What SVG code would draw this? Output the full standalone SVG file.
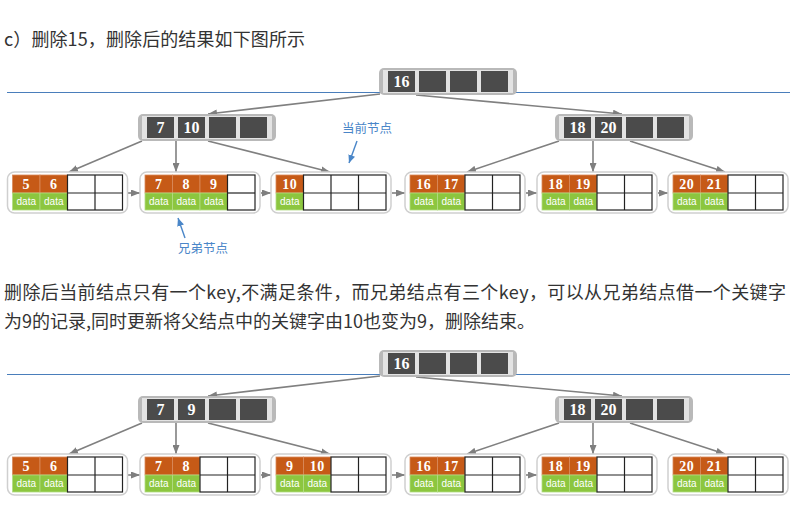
<svg xmlns="http://www.w3.org/2000/svg" xmlns:xlink="http://www.w3.org/1999/xlink" width="799" height="520" viewBox="0 0 799 520">
  <style>
    .para { font-family: "Noto Sans CJK SC", "Noto Sans", sans-serif; font-size: 18px; fill: #333; }
    .note { font-family: "Noto Sans CJK SC", "Noto Sans", sans-serif; font-size: 12.5px; fill: #4a86c8; }
    .rule { stroke: #4a7ebb; stroke-width: 1; }
    .nb { fill: #b9b9b9; }
    .ni { fill: #e3e3e3; }
    .nc { fill: #4b4b4b; }
    .frame { fill: #fff; stroke: #cfcfcf; stroke-width: 1.5; }
    .grid { fill: #fff; stroke: #222; stroke-width: 1.2; }
    .key { fill: #c65a17; stroke: #d98a5c; stroke-width: 0.8; }
    .dat { fill: #8cc63f; stroke: #b2dc85; stroke-width: 0.8; }
    .kt { font-family: "Liberation Serif", "DejaVu Serif", serif; font-weight: bold; fill: #fff; text-anchor: middle; }
    .kt-in { font-size: 16px; }
    .kt-leaf { font-size: 14px; letter-spacing: 0.5px; }
    .dt { font-family: "Liberation Sans", Arial, sans-serif; font-size: 10px; fill: #fff; text-anchor: middle; }
    .link { stroke: #808080; stroke-width: 1.6; fill: none; marker-end: url(#arr); }
    .hint { stroke: #4a86c8; stroke-width: 1.4; fill: none; marker-end: url(#arrb); }
  </style>
  <defs>
    <marker id="arr" markerUnits="userSpaceOnUse" markerWidth="9" markerHeight="7" refX="9" refY="3.5" orient="auto">
      <path d="M0,0 L9,3.5 L0,7 z" fill="#7f7f7f"/>
    </marker>
    <marker id="arrb" markerUnits="userSpaceOnUse" markerWidth="8" markerHeight="7" refX="8" refY="3.5" orient="auto">
      <path d="M0,0 L8,3.5 L0,7 z" fill="#4a86c8"/>
    </marker>
    <!-- internal node: frame plus four key slots -->
    <g id="inode">
      <rect class="nb" x="0" y="0" width="138" height="27" rx="5"/>
      <rect class="ni" x="4" y="2" width="130" height="23"/>
      <rect class="nc" x="9" y="3" width="27" height="21"/>
      <rect class="nc" x="40" y="3" width="27" height="21"/>
      <rect class="nc" x="71" y="3" width="27" height="21"/>
      <rect class="nc" x="102" y="3" width="27" height="21"/>
    </g>
    <!-- leaf frame -->
    <rect id="lframe" class="frame" x="-5" y="-3" width="120" height="41" rx="7"/>
    <!-- one filled key/data column -->
    <g id="kd">
      <rect class="key" x="0" y="0" width="27.5" height="18"/>
      <rect class="dat" x="0" y="18" width="27.5" height="17"/>
    </g>
    <!-- empty columns -->
    <g id="e1">
      <rect class="grid" x="0" y="0" width="27.5" height="35"/>
      <line class="grid" x1="0" y1="18" x2="27.5" y2="18"/>
    </g>
    <g id="e2">
      <rect class="grid" x="0" y="0" width="55" height="35"/>
      <line class="grid" x1="27.5" y1="0" x2="27.5" y2="35"/>
      <line class="grid" x1="0" y1="18" x2="55" y2="18"/>
    </g>
    <g id="e3">
      <rect class="grid" x="0" y="0" width="82.5" height="35"/>
      <line class="grid" x1="27.5" y1="0" x2="27.5" y2="35"/>
      <line class="grid" x1="55" y1="0" x2="55" y2="35"/>
      <line class="grid" x1="0" y1="18" x2="82.5" y2="18"/>
    </g>
  </defs>

  <rect width="799" height="520" fill="#fff"/>

  <text class="para" x="4" y="46" textLength="301" lengthAdjust="spacing">c）删除15，删除后的结果如下图所示</text>
  <text class="para" x="4" y="299" textLength="782" lengthAdjust="spacing">删除后当前结点只有一个key,不满足条件，而兄弟结点有三个key，可以从兄弟结点借一个关键字</text>
  <text class="para" x="4" y="328" textLength="531" lengthAdjust="spacing">为9的记录,同时更新将父结点中的关键字由10也变为9，删除结束。</text>

  <line class="rule" x1="7" y1="92.5" x2="790" y2="92.5"/>
  <line class="rule" x1="7" y1="374.5" x2="790" y2="374.5"/>

  <!-- connectors -->
  <g id="connectors">
    <path class="link" d="M380,94 L208,114"/>
    <path class="link" d="M416,95 L622,114"/>
    <path class="link" d="M142,141 L69,172"/>
    <path class="link" d="M176,141 L176,172"/>
    <path class="link" d="M208,141 L330,172"/>
    <path class="link" d="M559,141 L467,172"/>
    <path class="link" d="M593,141 L593,172"/>
    <path class="link" d="M630,141 L725,172"/>
    <path class="link" d="M128,193 L140,193"/>
    <path class="link" d="M261,193 L271,193"/>
    <path class="link" d="M392,193 L405,193"/>
    <path class="link" d="M526,193 L537,193"/>
    <path class="link" d="M658,193 L668,193"/>

    <path class="link" d="M380,376 L208,396"/>
    <path class="link" d="M416,377 L622,396"/>
    <path class="link" d="M142,423 L69,454"/>
    <path class="link" d="M176,423 L176,454"/>
    <path class="link" d="M208,423 L330,454"/>
    <path class="link" d="M559,423 L467,454"/>
    <path class="link" d="M593,423 L593,454"/>
    <path class="link" d="M630,423 L725,454"/>
    <path class="link" d="M128,475 L140,475"/>
    <path class="link" d="M261,475 L271,475"/>
    <path class="link" d="M392,475 L405,475"/>
    <path class="link" d="M526,475 L537,475"/>

    <path class="hint" d="M357,141 L349,163"/>
    <path class="hint" d="M185,238 L178,218"/>
  </g>

  <text class="note" x="342" y="133">当前节点</text>
  <text class="note" x="178" y="253">兄弟节点</text>

  <!-- ===== before: tree after removing 15 ===== -->
  <g id="a-root" transform="translate(379,68)">
    <use xlink:href="#inode"/>
    <text class="kt kt-in" x="22.5" y="19">16</text>
  </g>
  <g id="a-left" transform="translate(138,114)">
    <use xlink:href="#inode"/>
    <text class="kt kt-in" x="22.5" y="19">7</text>
    <text class="kt kt-in" x="53.5" y="19">10</text>
  </g>
  <g id="a-right" transform="translate(555,114)">
    <use xlink:href="#inode"/>
    <text class="kt kt-in" x="22.5" y="19">18</text>
    <text class="kt kt-in" x="53.5" y="19">20</text>
  </g>

  <g id="a-leaf1" transform="translate(12.5,175)">
    <use xlink:href="#lframe"/>
    <use xlink:href="#kd"/><use xlink:href="#kd" x="27.5"/>
    <use xlink:href="#e2" x="55"/>
    <text class="kt kt-leaf" x="13.75" y="14">5</text><text class="kt kt-leaf" x="41.25" y="14">6</text>
    <text class="dt" x="13.75" y="30">data</text><text class="dt" x="41.25" y="30">data</text>
  </g>
  <g id="a-leaf2" transform="translate(145,175)">
    <use xlink:href="#lframe"/>
    <use xlink:href="#kd"/><use xlink:href="#kd" x="27.5"/><use xlink:href="#kd" x="55"/>
    <use xlink:href="#e1" x="82.5"/>
    <text class="kt kt-leaf" x="13.75" y="14">7</text><text class="kt kt-leaf" x="41.25" y="14">8</text><text class="kt kt-leaf" x="68.75" y="14">9</text>
    <text class="dt" x="13.75" y="30">data</text><text class="dt" x="41.25" y="30">data</text><text class="dt" x="68.75" y="30">data</text>
  </g>
  <g id="a-leaf3" transform="translate(276,175)">
    <use xlink:href="#lframe"/>
    <use xlink:href="#kd"/>
    <use xlink:href="#e3" x="27.5"/>
    <text class="kt kt-leaf" x="13.75" y="14">10</text>
    <text class="dt" x="13.75" y="30">data</text>
  </g>
  <g id="a-leaf4" transform="translate(410,175)">
    <use xlink:href="#lframe"/>
    <use xlink:href="#kd"/><use xlink:href="#kd" x="27.5"/>
    <use xlink:href="#e2" x="55"/>
    <text class="kt kt-leaf" x="13.75" y="14">16</text><text class="kt kt-leaf" x="41.25" y="14">17</text>
    <text class="dt" x="13.75" y="30">data</text><text class="dt" x="41.25" y="30">data</text>
  </g>
  <g id="a-leaf5" transform="translate(542,175)">
    <use xlink:href="#lframe"/>
    <use xlink:href="#kd"/><use xlink:href="#kd" x="27.5"/>
    <use xlink:href="#e2" x="55"/>
    <text class="kt kt-leaf" x="13.75" y="14">18</text><text class="kt kt-leaf" x="41.25" y="14">19</text>
    <text class="dt" x="13.75" y="30">data</text><text class="dt" x="41.25" y="30">data</text>
  </g>
  <g id="a-leaf6" transform="translate(673,175)">
    <use xlink:href="#lframe"/>
    <use xlink:href="#kd"/><use xlink:href="#kd" x="27.5"/>
    <use xlink:href="#e2" x="55"/>
    <text class="kt kt-leaf" x="13.75" y="14">20</text><text class="kt kt-leaf" x="41.25" y="14">21</text>
    <text class="dt" x="13.75" y="30">data</text><text class="dt" x="41.25" y="30">data</text>
  </g>

  <!-- ===== after: key 9 borrowed from the sibling ===== -->
  <g id="b-root" transform="translate(379,350)">
    <use xlink:href="#inode"/>
    <text class="kt kt-in" x="22.5" y="19">16</text>
  </g>
  <g id="b-left" transform="translate(138,396)">
    <use xlink:href="#inode"/>
    <text class="kt kt-in" x="22.5" y="19">7</text>
    <text class="kt kt-in" x="53.5" y="19">9</text>
  </g>
  <g id="b-right" transform="translate(555,396)">
    <use xlink:href="#inode"/>
    <text class="kt kt-in" x="22.5" y="19">18</text>
    <text class="kt kt-in" x="53.5" y="19">20</text>
  </g>

  <g id="b-leaf1" transform="translate(12.5,457)">
    <use xlink:href="#lframe"/>
    <use xlink:href="#kd"/><use xlink:href="#kd" x="27.5"/>
    <use xlink:href="#e2" x="55"/>
    <text class="kt kt-leaf" x="13.75" y="14">5</text><text class="kt kt-leaf" x="41.25" y="14">6</text>
    <text class="dt" x="13.75" y="30">data</text><text class="dt" x="41.25" y="30">data</text>
  </g>
  <g id="b-leaf2" transform="translate(145,457)">
    <use xlink:href="#lframe"/>
    <use xlink:href="#kd"/><use xlink:href="#kd" x="27.5"/>
    <use xlink:href="#e2" x="55"/>
    <text class="kt kt-leaf" x="13.75" y="14">7</text><text class="kt kt-leaf" x="41.25" y="14">8</text>
    <text class="dt" x="13.75" y="30">data</text><text class="dt" x="41.25" y="30">data</text>
  </g>
  <g id="b-leaf3" transform="translate(276,457)">
    <use xlink:href="#lframe"/>
    <use xlink:href="#kd"/><use xlink:href="#kd" x="27.5"/>
    <use xlink:href="#e2" x="55"/>
    <text class="kt kt-leaf" x="13.75" y="14">9</text><text class="kt kt-leaf" x="41.25" y="14">10</text>
    <text class="dt" x="13.75" y="30">data</text><text class="dt" x="41.25" y="30">data</text>
  </g>
  <g id="b-leaf4" transform="translate(410,457)">
    <use xlink:href="#lframe"/>
    <use xlink:href="#kd"/><use xlink:href="#kd" x="27.5"/>
    <use xlink:href="#e2" x="55"/>
    <text class="kt kt-leaf" x="13.75" y="14">16</text><text class="kt kt-leaf" x="41.25" y="14">17</text>
    <text class="dt" x="13.75" y="30">data</text><text class="dt" x="41.25" y="30">data</text>
  </g>
  <g id="b-leaf5" transform="translate(542,457)">
    <use xlink:href="#lframe"/>
    <use xlink:href="#kd"/><use xlink:href="#kd" x="27.5"/>
    <use xlink:href="#e2" x="55"/>
    <text class="kt kt-leaf" x="13.75" y="14">18</text><text class="kt kt-leaf" x="41.25" y="14">19</text>
    <text class="dt" x="13.75" y="30">data</text><text class="dt" x="41.25" y="30">data</text>
  </g>
  <g id="b-leaf6" transform="translate(673,457)">
    <use xlink:href="#lframe"/>
    <use xlink:href="#kd"/><use xlink:href="#kd" x="27.5"/>
    <use xlink:href="#e2" x="55"/>
    <text class="kt kt-leaf" x="13.75" y="14">20</text><text class="kt kt-leaf" x="41.25" y="14">21</text>
    <text class="dt" x="13.75" y="30">data</text><text class="dt" x="41.25" y="30">data</text>
  </g>
</svg>
